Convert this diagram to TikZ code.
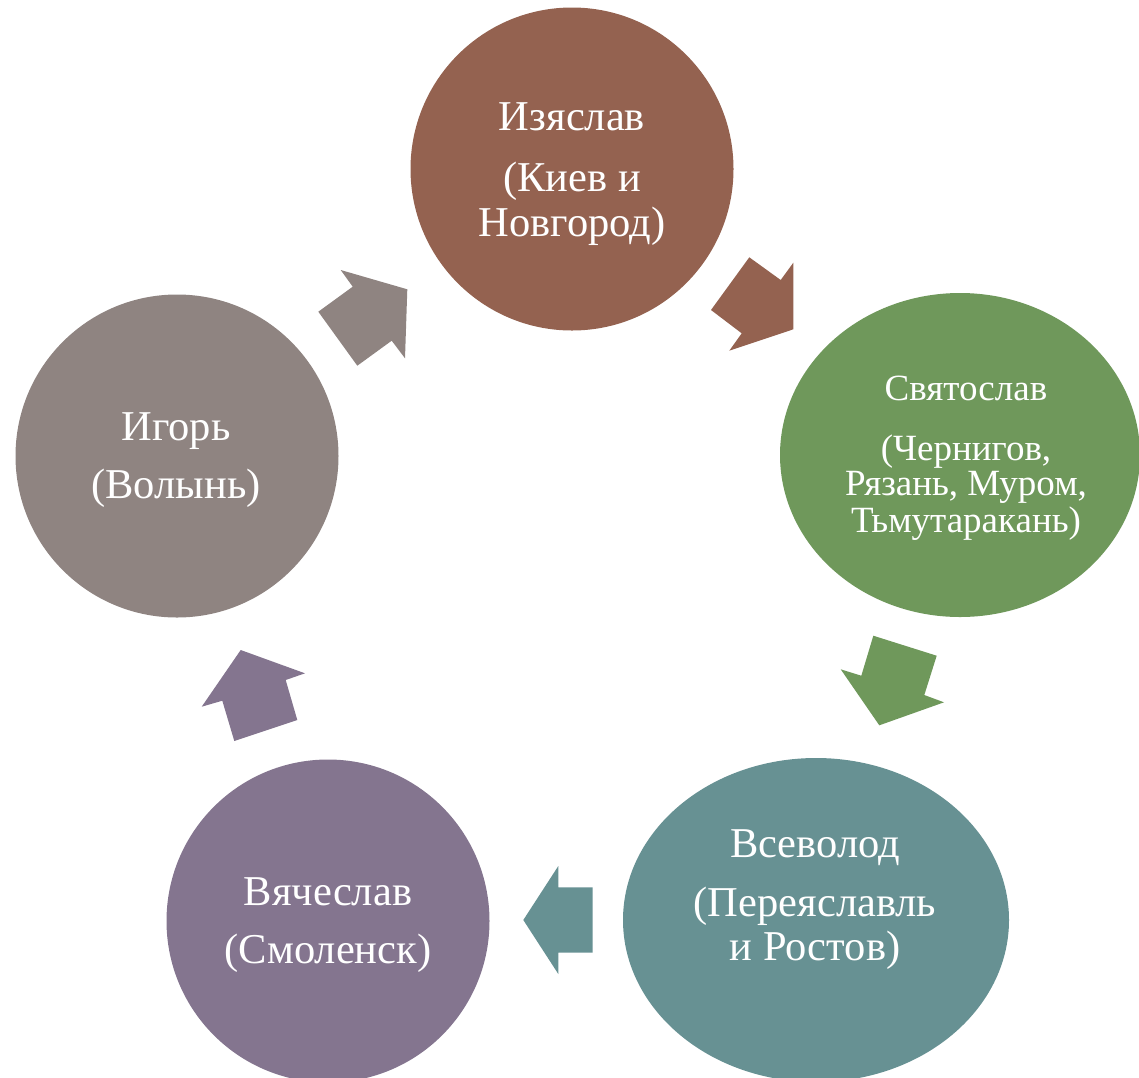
\documentclass[tikz,border=0pt]{standalone}
\usepackage{fontspec}
\setmainfont{Liberation Serif}
\usetikzlibrary{shapes.geometric}
\definecolor{cBrown}{HTML}{946250}
\definecolor{cGreen}{HTML}{6F985B}
\definecolor{cTeal}{HTML}{679193}
\definecolor{cPurple}{HTML}{84758F}
\definecolor{cGray}{HTML}{8F8481}
\tikzset{
  blob/.style={ellipse, draw=none, inner sep=0pt},
  bigtxt/.style={text=white, inner sep=0pt, anchor=base, font=\fontsize{42.5}{48}\selectfont},
  smalltxt/.style={text=white, inner sep=0pt, anchor=base, font=\fontsize{37}{42}\selectfont}
}
\begin{document}
\begin{tikzpicture}[x=1pt,y=-1pt]
\useasboundingbox (0,0) rectangle (1139,1077);
\clip (0,0) rectangle (1139,1077);
% circles
\node[blob, fill=cBrown, minimum width=323, minimum height=323] (izyaslav) at (572,169) {};
\node[blob, fill=cGreen, minimum width=360, minimum height=324] (svyatoslav) at (960,455) {};
\node[blob, fill=cTeal, minimum width=386, minimum height=324] (vsevolod) at (816,920) {};
\node[blob, fill=cPurple, minimum width=323, minimum height=323] (vyacheslav) at (328,921) {};
\node[blob, fill=cGray, minimum width=323, minimum height=323] (igor) at (177,456) {};
% texts
\node[bigtxt] (t1a) at (572,130) {Изяслав};
\node[bigtxt] (t1b) at (572,191) {(Киев и};
\node[bigtxt] (t1c) at (572,236) {Новгород)};
\node[smalltxt] (t2a) at (966,400) {Святослав};
\node[smalltxt] (t2b) at (966,460) {(Чернигов,};
\node[smalltxt] (t2c) at (966,495) {Рязань, Муром,};
\node[smalltxt] (t2d) at (966,532) {Тьмутаракань)};
\node[bigtxt] (t3a) at (815,857) {Всеволод};
\node[bigtxt] (t3b) at (815,916) {(Переяславль};
\node[bigtxt] (t3c) at (815,960) {и Ростов)};
\node[bigtxt] (t4a) at (328,905) {Вячеслав};
\node[bigtxt] (t4b) at (328,963) {(Смоленск)};
\node[bigtxt] (t5a) at (176,440) {Игорь};
\node[bigtxt] (t5b) at (176,498) {(Волынь)};
% block arrows
\fill[cBrown] (749.3,257.3) -- (780.7,280) -- (793.3,262.7) -- (793.3,329.3) -- (729.3,350.7) -- (741.7,333.3) -- (711,310) -- cycle;
\fill[cGreen] (873.3,635.7) -- (936.7,655.7) -- (924.3,695) -- (944,702.3) -- (879.3,725.3) -- (840.7,669.3) -- (861.3,675.7) -- cycle;
\fill[cTeal] (592.7,887.3) -- (592.7,952.7) -- (558.3,952.7) -- (558.3,974) -- (523.3,920) -- (558.3,866) -- (558.3,887.3) -- cycle;
\fill[cPurple] (234.3,741) -- (297.3,720) -- (285.7,680) -- (305,673.3) -- (240.7,650) -- (201.7,706.7) -- (222.3,700.7) -- cycle;
\fill[cGray] (357.3,365.7) -- (318.3,311.7) -- (352.7,286.7) -- (340.7,270) -- (407.3,289.3) -- (405,358.3) -- (391.7,340.7) -- cycle;
\end{tikzpicture}
\end{document}
